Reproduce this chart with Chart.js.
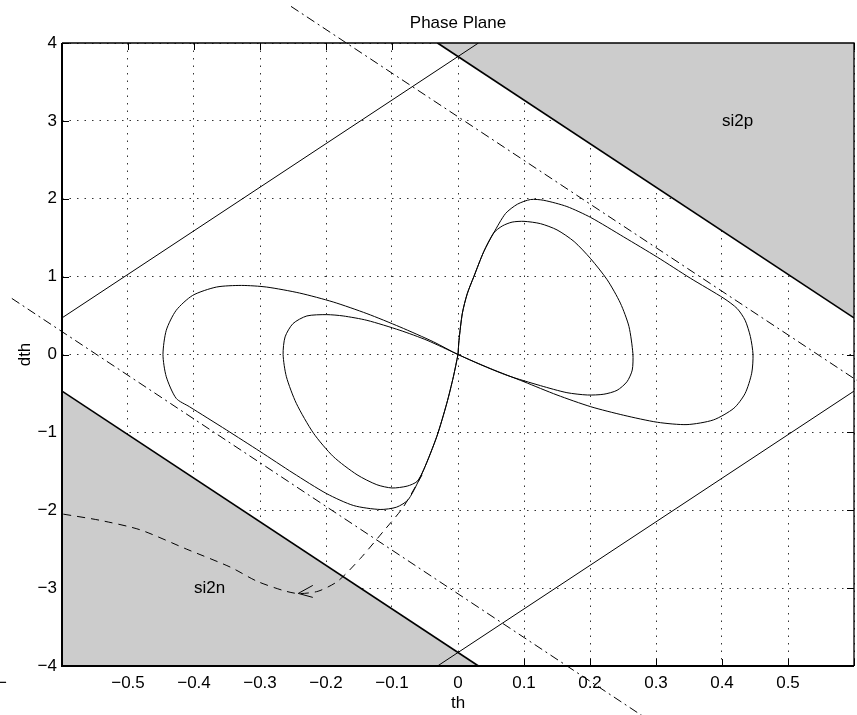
<!DOCTYPE html>
<html>
<head>
<meta charset="utf-8">
<title>Phase Plane</title>
<script src="https://cdn.jsdelivr.net/npm/chart.js@4.4.0/dist/chart.umd.min.js"></script>
<style>
  html, body { margin: 0; padding: 0; background: #fff; }
  #wrap { width: 857px; height: 715px; }
</style>
</head>
<body>
<div id="wrap"><canvas id="plane" width="857" height="715"></canvas></div>
<script>
// --- data: [th, dth] pairs ---
const shadeUpper = [[-0.031, 4], [0.6, 4], [0.6, 0.47], [-0.031, 4]];
const shadeLower = [[-0.6, -0.47], [-0.6, -4], [0.031, -4], [-0.6, -0.47]];

const edgeUpper = [[-0.031, 4], [0.6, 0.47]];      // si2p boundary
const edgeLower = [[-0.6, -0.47], [0.031, -4]];    // si2n boundary
const sideUpperLeft = [[-0.6, 0.47], [0.031, 4]];
const sideLowerRight = [[-0.031, -4], [0.6, -0.47]];

const switchUpper = [[-0.253, 4.47], [0.62, -0.42]];
const switchLower = [[-0.676, 0.72], [0.29, -4.7]];

const outerLoop = [
  [0, 0], [0.0015, 0.18], [0.0066, 0.53], [0.014, 0.78], [0.024, 1.0], [0.039, 1.32], [0.054, 1.56],
  [0.072, 1.81], [0.090, 1.93], [0.110, 1.99], [0.130, 1.98], [0.165, 1.90], [0.201, 1.76],
  [0.251, 1.51], [0.302, 1.25], [0.352, 0.98], [0.403, 0.72], [0.423, 0.59], [0.435, 0.44],
  [0.443, 0.23], [0.447, 0], [0.445, -0.24], [0.435, -0.50], [0.418, -0.69], [0.387, -0.84],
  [0.347, -0.90], [0.302, -0.87], [0.251, -0.78], [0.201, -0.67], [0.150, -0.52], [0.100, -0.35],
  [0.049, -0.18], [0, 0],
  [-0.037, 0.162], [-0.088, 0.354], [-0.138, 0.525], [-0.189, 0.674], [-0.240, 0.789],
  [-0.290, 0.866], [-0.328, 0.887], [-0.366, 0.866], [-0.402, 0.759], [-0.427, 0.567],
  [-0.442, 0.311], [-0.447, 0], [-0.442, -0.286], [-0.427, -0.563], [-0.407, -0.67],
  [-0.351, -0.968], [-0.300, -1.245], [-0.250, -1.522], [-0.199, -1.787], [-0.158, -1.94],
  [-0.118, -1.99], [-0.093, -1.96], [-0.075, -1.86], [-0.052, -1.48], [-0.032, -1.05],
  [-0.017, -0.627], [-0.007, -0.286], [0, 0]
];

const innerLoop = [
  [0, 0], [0.0015, 0.18], [0.0066, 0.53], [0.014, 0.78], [0.024, 1.0], [0.039, 1.32], [0.054, 1.56],
  [0.067, 1.65], [0.082, 1.70], [0.100, 1.71], [0.125, 1.68], [0.150, 1.60], [0.176, 1.45],
  [0.201, 1.23], [0.226, 0.96], [0.246, 0.66], [0.259, 0.36], [0.265, 0.01], [0.264, -0.20],
  [0.256, -0.35], [0.241, -0.46], [0.221, -0.51], [0.196, -0.52], [0.165, -0.49], [0.125, -0.40],
  [0.075, -0.27], [0.034, -0.13], [0, 0],
  [-0.047, 0.183], [-0.088, 0.311], [-0.138, 0.439], [-0.174, 0.495], [-0.199, 0.512],
  [-0.229, 0.495], [-0.250, 0.397], [-0.262, 0.226], [-0.265, 0], [-0.260, -0.286],
  [-0.245, -0.627], [-0.219, -1.01], [-0.189, -1.31], [-0.153, -1.544], [-0.123, -1.672],
  [-0.100, -1.714], [-0.077, -1.69], [-0.062, -1.63], [-0.052, -1.48], [-0.032, -1.05],
  [-0.017, -0.627], [-0.007, -0.286], [0, 0]
];

const escapePath = [
  [-0.598, -2.05], [-0.542, -2.13], [-0.482, -2.25], [-0.411, -2.50], [-0.345, -2.73],
  [-0.305, -2.91], [-0.265, -3.03], [-0.242, -3.07], [-0.212, -3.04], [-0.182, -2.91],
  [-0.148, -2.62], [-0.114, -2.28], [-0.083, -1.96], [-0.050, -1.48]
];
const arrowHead = [[-0.220, -2.965], [-0.242, -3.068], [-0.220, -3.119]];

const regionLabels = [
  { text: 'si2p', x: 0.4, y: 3 },
  { text: 'si2n', x: -0.4, y: -3 }
];

const FONT = '"Liberation Sans", Arial, Helvetica, sans-serif';

function fmtTick(v){
  const r = Math.round(v * 10) / 10;
  if (Math.abs(r) < 1e-9) return '0';
  return (r < 0 ? '\u2212' : '') + Math.abs(r);
}

function series(pts, extra){
  return Object.assign({
    data: pts.map(([x, y]) => ({ x, y })),
    showLine: true, borderColor: '#000', borderWidth: 1,
    pointRadius: 0, pointHoverRadius: 0, fill: false, tension: 0, order: 0
  }, extra);
}

// inward ticks, box, title and region names
const decor = {
  id: 'decor',
  beforeDatasetsDraw(chart){
    const { ctx, chartArea: a, scales: { x, y } } = chart;
    ctx.save();
    ctx.strokeStyle = '#000';
    ctx.lineWidth = 1;
    ctx.beginPath();
    x.ticks.forEach(t => {
      const px = Math.round(x.getPixelForValue(t.value)) + 0.5;
      ctx.moveTo(px, a.bottom); ctx.lineTo(px, a.bottom - 7);
      ctx.moveTo(px, a.top); ctx.lineTo(px, a.top + 7);
    });
    y.ticks.forEach(t => {
      const py = Math.round(y.getPixelForValue(t.value)) + 0.5;
      ctx.moveTo(a.left, py); ctx.lineTo(a.left + 7, py);
      ctx.moveTo(a.right, py); ctx.lineTo(a.right - 7, py);
    });
    ctx.stroke();
    ctx.restore();
  },
  afterDatasetsDraw(chart){
    const { ctx, chartArea: a, scales: { x, y } } = chart;
    ctx.save();
    ctx.strokeStyle = '#000';
    ctx.lineWidth = 1.3;
    ctx.beginPath();
    ctx.moveTo(a.left, a.top); ctx.lineTo(a.right, a.top); ctx.lineTo(a.right, a.bottom);
    ctx.stroke();
    ctx.lineWidth = 2;
    ctx.beginPath();
    ctx.moveTo(a.left, a.top); ctx.lineTo(a.left, a.bottom); ctx.lineTo(a.right, a.bottom);
    ctx.stroke();

    ctx.fillStyle = '#000';
    ctx.font = '17px ' + FONT;
    ctx.textAlign = 'center';
    ctx.textBaseline = 'alphabetic';
    ctx.fillText('Phase Plane', (a.left + a.right) / 2, 28);

    ctx.textAlign = 'left';
    ctx.textBaseline = 'middle';
    regionLabels.forEach(l => ctx.fillText(l.text, x.getPixelForValue(l.x), y.getPixelForValue(l.y)));

    ctx.textAlign = 'right';
    ctx.fillText('\u2212', 7, 683);
    ctx.restore();
  }
};

new Chart(document.getElementById('plane'), {
  type: 'scatter',
  data: {
    datasets: [
      series(shadeUpper, { fill: 'shape', backgroundColor: '#cccccc', borderColor: 'rgba(0,0,0,0)', order: 10 }),
      series(shadeLower, { fill: 'shape', backgroundColor: '#cccccc', borderColor: 'rgba(0,0,0,0)', order: 10 }),
      series(edgeUpper, { borderWidth: 1.7 }),
      series(edgeLower, { borderWidth: 1.7 }),
      series(sideUpperLeft),
      series(sideLowerRight),
      series(switchUpper, { borderDash: [9, 4, 2, 4], clip: false }),
      series(switchLower, { borderDash: [9, 4, 2, 4], clip: false }),
      series(outerLoop, { tension: 0.25 }),
      series(innerLoop, { tension: 0.25 }),
      series(escapePath, { borderDash: [8, 6], tension: 0.25 }),
      series(arrowHead)
    ]
  },
  options: {
    responsive: false,
    animation: false,
    events: [],
    layout: { padding: { top: 43, right: 3, left: 0, bottom: 0 } },
    plugins: { legend: { display: false }, tooltip: { enabled: false }, title: { display: false } },
    scales: {
      x: {
        type: 'linear', min: -0.6, max: 0.6,
        ticks: {
          stepSize: 0.1, padding: 0, color: '#000', maxRotation: 0, autoSkip: false,
          font: { family: FONT, size: 17 },
          callback: v => (Math.abs(Math.abs(v) - 0.6) < 1e-6 ? '' : fmtTick(v))
        },
        grid: { color: '#333', lineWidth: 1, drawTicks: true, tickLength: 7, tickColor: 'rgba(0,0,0,0)' },
        border: { display: false, dash: [1.5, 6] },
        title: { display: true, text: 'th', color: '#000', font: { family: FONT, size: 17 }, padding: { top: 0, bottom: 1.8 } },
        afterFit: s => { s.height = 49; }
      },
      y: {
        type: 'linear', min: -4, max: 4,
        ticks: {
          stepSize: 1, padding: 0, color: '#000',
          font: { family: FONT, size: 17 },
          callback: v => fmtTick(v)
        },
        grid: { color: '#333', lineWidth: 1, drawTicks: true, tickLength: 5, tickColor: 'rgba(0,0,0,0)' },
        border: { display: false, dash: [1.5, 6] },
        title: { display: true, text: 'dth', color: '#000', font: { family: FONT, size: 17 }, padding: { top: 14.8, bottom: 0 } },
        afterFit: s => { s.width = 62; }
      }
    }
  },
  plugins: [decor]
});
</script>
</body>
</html>
